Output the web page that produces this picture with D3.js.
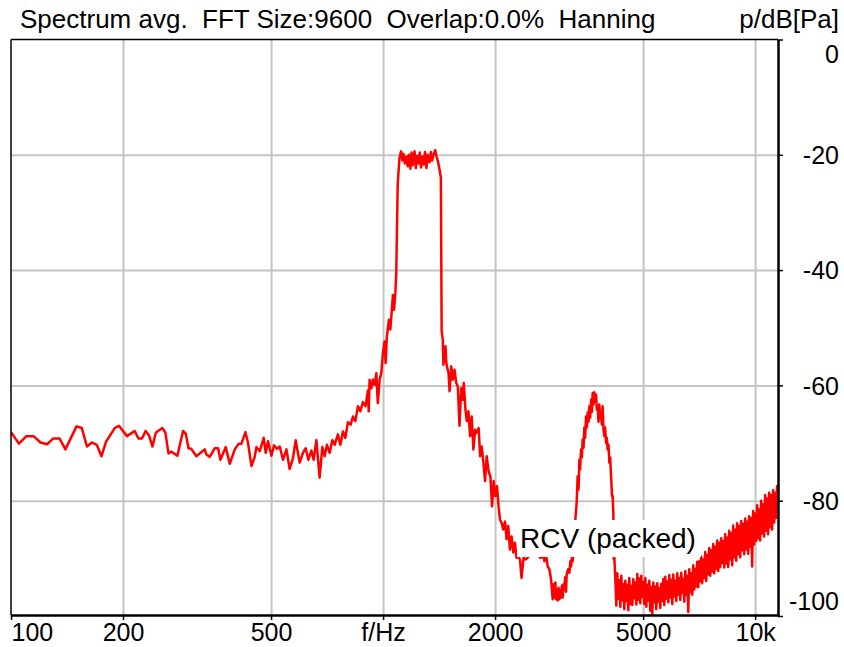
<!DOCTYPE html>
<html>
<head>
<meta charset="utf-8">
<script src="https://cdn.jsdelivr.net/npm/d3@7"></script>
<style>
  body { margin: 0; background: #fff; }
  svg text { font-family: "Liberation Sans", Arial, sans-serif; fill: #000; }
</style>
</head>
<body>
<script>
// spectrum: frequency (Hz) and level (dB re Pa)
const freqHz = [
  100, 105, 110, 115, 120, 125, 130, 135, 140, 150, 155, 160, 165, 170, 175, 180, 190, 195,
  205, 215, 220, 225, 230, 235, 240, 245, 255, 260, 265, 270, 280, 290, 295, 300, 305, 315,
  331.7, 335.2, 342.1, 352.9, 360.2, 365.5, 377.7, 387.2, 399.4, 409.4, 416.3, 426.7, 433.6,
  442.9, 451.9, 456.7, 466.2, 477.8, 483.8, 490.7, 501.2, 509.2, 518.7, 527.5, 538.4, 549.9,
  561, 572.6, 582.3, 596.8, 609.1, 619.4, 629.8, 641.6, 650.8, 661.7, 675.3, 686.7, 696.6,
  706.6, 718.5, 730.6, 741, 756.3, 767.6, 780.1, 791.7, 804.5, 818.2, 830, 842.3, 856, 868.7,
  882.7, 897.5, 910.4, 915,
  920, 930, 939, 949, 959, 968, 979, 989, 999, 1009, 1016, 1024, 1037, 1046, 1054, 1063, 1070,
  1079, 1085, 1095, 1107, 1118, 1127, 1134, 1145, 1155, 1165, 1173, 1184, 1193, 1202, 1215,
  1225, 1234, 1245, 1255, 1264, 1276, 1286, 1296, 1308, 1318, 1333, 1344, 1355, 1366, 1381,
  1392, 1403, 1418, 1430, 1437,
  1447, 1453, 1463, 1472, 1478, 1484, 1493, 1500, 1509, 1525, 1540, 1556, 1573, 1588, 1605,
  1622, 1638, 1648, 1665, 1679, 1696, 1714, 1731, 1749, 1768, 1785, 1807, 1823, 1841, 1861,
  1880, 1899, 1922, 1943, 1963, 1983, 2003, 2024, 2044, 2062, 2082, 2104, 2127, 2148, 2170,
  2193, 2215, 2239, 2262, 2284, 2308, 2333, 2356, 2385, 2421, 2460, 2486, 2517, 2548, 2580,
  2612, 2642,
  2659, 2689, 2714, 2743, 2770, 2799, 2829, 2846, 2857, 2873, 2887, 2905, 2917, 2931, 2946,
  2962, 2978, 2996, 3009, 3024, 3039, 3056, 3071, 3086, 3103, 3115, 3142, 3168, 3188, 3201,
  3217, 3233, 3251, 3267, 3287, 3314, 3334, 3353, 3370, 3384, 3405, 3422, 3439, 3458, 3475,
  3492, 3512, 3529, 3547, 3567, 3585, 3603, 3623, 3641, 3659, 3680, 3697, 3716, 3736, 3755,
  3773, 3794, 3813, 3832, 3853, 3872, 3891, 3913, 3933, 3952, 3974, 3994, 4014, 4036, 4057,
  4077, 4100, 4125, 4141, 4158, 4171, 4184,
  4210, 4236, 4262, 4288, 4315, 4342, 4369, 4396, 4423, 4450, 4478, 4506, 4534, 4562, 4590,
  4619, 4647, 4676, 4705, 4734, 4764, 4793, 4823, 4853, 4883, 4913, 4944, 4975, 5005, 5036,
  5068, 5099, 5131, 5163, 5195, 5227, 5260, 5293, 5325, 5358, 5391, 5424, 5458, 5492, 5526,
  5560, 5595, 5630, 5665, 5700, 5735, 5771, 5807, 5843, 5879, 5915, 5952, 5989, 6026, 6063,
  6101, 6139, 6177, 6215, 6253, 6292, 6331, 6370, 6410, 6450, 6490, 6530, 6570, 6611, 6652,
  6694, 6735, 6777, 6819, 6861, 6903, 6946, 6989, 7032, 7076, 7120, 7164, 7208, 7253, 7298,
  7343, 7389, 7435, 7481, 7528, 7574, 7621, 7668, 7716, 7764, 7812, 7860, 7909, 7958, 8008,
  8057, 8107, 8157, 8208, 8259, 8310, 8362, 8414, 8466, 8518, 8571, 8624, 8677, 8731, 8785,
  8840, 8895, 8950, 9005, 9062, 9118, 9174, 9231, 9288, 9346, 9404, 9462, 9521, 9580, 9636,
  9696, 9756, 9817, 9878, 9939, 10001, 10063, 10125, 10188, 10250, 10314, 10378, 10442, 10507,
  10572, 10638, 10704, 10770, 10837, 10904, 10972, 11040, 11108, 11177, 11246, 11316, 11386, 11457
];
const levelDb = [
  -68.1, -70.1, -68.8, -68.8, -69.9, -70.2, -69.2, -69.2, -71.1, -67.1, -67.4, -70.6, -69.9, -70.3, -72.3, -69.8, -67.4, -67.0,
  -68.8, -67.9, -69.2, -69.2, -67.9, -68.7, -70.6, -68.2, -67.4, -68.2, -71.8, -71.5, -72.2, -67.9, -68.4, -70.9, -71.0, -72.3,
  -71.1, -72.0, -72.4, -70.9, -70.9, -72.9, -70.7, -73.6, -71.1, -70.1, -70.1, -68.1, -70.0,
  -74.0, -72.4, -70.7, -71.4, -69.1, -71.7, -69.7, -72.2, -70.4, -71.0, -70.6, -72.9, -71.1,
  -74.5, -72.6, -69.5, -73.4, -71.7, -70.9, -72.9, -71.3, -72.9, -69.5, -76.0, -70.7, -72.3,
  -70.3, -71.7, -69.5, -70.3, -68.5, -70.3, -68.0, -69.1, -66.4, -66.8, -65.4, -66.2, -63.6, -64.5,
  -62.9, -63.6, -60.9, -64.5,
  -59.0, -60.5, -59.0, -59.9, -57.9, -63.1, -59.0, -57.9, -54.4, -52.4, -56.1, -51.5, -48.6, -50.3, -47.5, -44.3, -46.9,
  -44.0, -40.5, -25.0, -20.5, -19.4, -21.0, -19.8, -21.5, -20.3, -22.0, -20.0, -22.4, -19.6, -21.8, -19.4,
  -22.3, -20.2, -21.5, -19.6, -22.2, -20.3, -21.7, -19.5, -22.3, -20.0, -21.3, -19.5, -21.0, -20.0, -19.2,
  -20.3, -21.0, -22.5, -24.0, -50.5,
  -52.1, -56.4, -54.4, -53.2, -55.8, -56.7, -57.3, -57.9, -61.0, -56.7, -59.0, -57.3, -59.6, -60.2, -67.0,
  -60.5, -62.5, -59.6, -64.2, -66.2, -64.5, -68.8, -65.4, -71.1, -67.7, -68.2, -67.4, -72.3, -70.6, -73.4,
  -76.6, -72.3, -74.9, -75.8, -81.0, -76.6, -79.2, -77.5, -81.0, -83.3, -83.8, -85.0, -83.6, -86.7, -84.4,
  -88.5, -86.2, -89.0, -87.3, -89.9, -89.6, -90.2, -93.4, -89.9, -90.2, -89.7, -88.0, -87.0, -88.5, -87.6,
  -89.0, -89.9,
  -89.9, -89.2, -90.5, -89.5, -91.4, -91.9, -93.7, -95.8, -97.1, -94.5, -96.8, -94.2, -97.1, -95.4, -97.3,
  -95.1, -97.1, -95.4, -96.8, -94.7, -96.8, -94.5, -95.4, -93.3, -95.8, -92.8, -91.9, -92.5, -90.5, -91.4,
  -89.9, -90.5, -88.8, -89.5, -83.3, -80.3, -75.8, -78.1, -72.9, -74.6, -71.1, -72.5, -69.4, -70.8, -67.3,
  -69.1, -65.4, -67.3, -64.7, -66.3, -63.6, -65.6, -62.5, -64.6, -61.3, -63.3, -61.2, -62.8, -61.6, -64.2,
  -63.6, -66.3, -63.3, -65.6, -65.1, -66.8, -63.6, -67.7, -68.8, -67.3, -70.0, -69.1, -71.1, -70.3, -73.4,
  -72.5, -75.8, -79.2, -79.2, -82.1, -90.2, -89.9,
  -93.6, -98.2, -92.6, -97.0, -93.8, -98.4, -93.0, -97.3, -94.5, -98.8, -93.9, -97.4, -94.6, -99.0, -93.4,
  -97.9, -94.8, -98.1, -93.6, -96.9, -94.2, -98.0, -92.7, -97.2, -93.5, -97.8, -93.0, -96.7, -94.1, -97.9,
  -93.4, -98.4, -94.6, -97.3, -93.9, -99.1, -95.0, -99.6, -94.2, -97.6, -94.9, -98.8, -94.3, -97.5, -95.2,
  -98.6, -94.4, -97.4, -93.6, -98.1, -93.2, -97.0, -94.0, -97.6, -92.9, -96.8, -93.7, -97.9, -92.8, -96.6,
  -93.9, -97.4, -92.6, -96.3, -93.4, -97.2, -92.5, -96.0, -93.6, -97.5, -92.2, -96.4, -93.0, -99.3, -91.9,
  -95.9, -92.6, -96.3, -91.2, -95.4, -91.8, -94.9, -90.6, -95.0, -90.5, -94.0, -89.7, -94.3, -90.2, -93.4,
  -88.9, -93.9, -89.4, -92.8, -88.2, -93.0, -88.6, -92.3, -87.5, -92.6, -88.0, -91.8, -86.9, -92.2, -87.3,
  -91.5, -86.5, -90.8, -87.0, -91.6, -85.8, -90.9, -86.4, -91.5, -85.2, -90.2, -85.6, -91.2, -84.3, -89.8,
  -85.0, -90.4, -83.9, -89.3, -84.4, -89.8, -83.5, -88.6, -84.0, -89.3, -83.1, -88.4, -83.6, -89.2, -82.7,
  -88.0, -83.0, -91.4, -81.8, -87.6, -82.2, -87.0, -80.8, -86.5, -81.5, -86.9, -80.0, -85.7, -80.6,
  -86.2, -79.0, -85.2, -79.6, -85.8, -78.6, -84.6, -79.0, -85.0, -78.2, -83.8, -78.6, -83.0, -77.3
];

const xTicks = [100, 200, 500, 1000, 2000, 5000, 10000];
const xTickLabels = ['100', '200', '500', 'f/Hz', '2000', '5000', '10k'];
const yTicks = [0, -20, -40, -60, -80, -100];
const titleText = 'Spectrum avg.  FFT Size:9600  Overlap:0.0%  Hanning';
const unitText = 'p/dB[Pa]';
const markerText = 'RCV (packed)';

const width = 844, height = 647;
const plot = { left: 11, right: 778, top: 39.5, bottom: 615 };

const points = freqHz.map((f, i) => ({ f: f, db: levelDb[i] }));

const xScale = d3.scaleLog()
  .domain([100, 11520])
  .range([plot.left, plot.right]);

const yScale = d3.scaleLinear()
  .domain([-100, 0])
  .range([616, plot.top]);

const svg = d3.select('body')
  .append('svg')
  .attr('width', width)
  .attr('height', height);

// grid
svg.append('g')
  .attr('transform', `translate(0, ${plot.bottom})`)
  .call(d3.axisBottom(xScale).tickValues(xTicks.slice(1)).tickSize(-(plot.bottom - plot.top)).tickFormat(''))
  .call(g => g.select('.domain').remove())
  .call(g => g.selectAll('line').attr('stroke', '#c4c4c4').attr('stroke-width', 2));

svg.append('g')
  .attr('transform', `translate(${plot.left}, 0)`)
  .call(d3.axisLeft(yScale).tickValues(yTicks.slice(1, -1)).tickSize(-(plot.right - plot.left)).tickFormat(''))
  .call(g => g.select('.domain').remove())
  .call(g => g.selectAll('line').attr('stroke', '#c4c4c4').attr('stroke-width', 2));

// spectrum line
svg.append('clipPath').attr('id', 'plotclip')
  .append('rect')
  .attr('x', plot.left).attr('y', plot.top)
  .attr('width', plot.right - plot.left).attr('height', plot.bottom - plot.top);

const line = d3.line()
  .x(d => xScale(d.f))
  .y(d => yScale(d.db));

svg.append('path')
  .datum(points)
  .attr('clip-path', 'url(#plotclip)')
  .attr('fill', 'none')
  .attr('stroke', '#ff0000')
  .attr('stroke-width', 2.5)
  .attr('stroke-linejoin', 'round')
  .attr('d', line);

// frame
svg.append('line')
  .attr('x1', plot.left).attr('x2', plot.left)
  .attr('y1', plot.top).attr('y2', plot.bottom)
  .attr('stroke', '#000').attr('stroke-width', 1.5);
svg.append('line')
  .attr('x1', plot.left).attr('x2', plot.right)
  .attr('y1', plot.top).attr('y2', plot.top)
  .attr('stroke', '#000').attr('stroke-width', 1.5);

// bottom axis
const xAxis = d3.axisBottom(xScale)
  .tickValues(xTicks)
  .tickFormat((d, i) => xTickLabels[i])
  .tickSize(5)
  .tickSizeOuter(0)
  .tickPadding(3);

svg.append('g')
  .attr('transform', `translate(0, ${plot.bottom})`)
  .call(xAxis)
  .call(g => g.select('.domain').attr('stroke', '#000').attr('stroke-width', 2.5))
  .call(g => g.selectAll('.tick line').attr('stroke', '#000').attr('stroke-width', 1.5))
  .call(g => g.selectAll('.tick text')
    .attr('font-size', '25px')
    .attr('font-family', '"Liberation Sans", Arial, sans-serif')
    .attr('fill', '#000')
    .attr('text-anchor', (d, i) => i === 0 ? 'start' : 'middle'));

// right axis
const yAxis = d3.axisRight(yScale)
  .tickValues(yTicks)
  .tickFormat(d => String(d))
  .tickSize(5)
  .tickSizeOuter(0);

svg.append('g')
  .attr('transform', `translate(${plot.right}, 0)`)
  .call(yAxis)
  .call(g => g.select('.domain').attr('stroke', '#000').attr('stroke-width', 2.5))
  .call(g => g.selectAll('.tick line').attr('stroke', '#000').attr('stroke-width', 1.5))
  .call(g => g.selectAll('.tick text')
    .attr('font-size', '25px')
    .attr('font-family', '"Liberation Sans", Arial, sans-serif')
    .attr('fill', '#000')
    .attr('text-anchor', 'end')
    .attr('x', 61)
    .attr('dy', d => d === 0 ? '0.9em' : (d === -100 ? '-0.25em' : '0.35em')));

// title and unit
svg.append('text')
  .attr('x', 20)
  .attr('y', 28)
  .attr('font-size', '26px')
  .style('white-space', 'pre')
  .text(titleText);

svg.append('text')
  .attr('x', 839)
  .attr('y', 28)
  .attr('font-size', '26px')
  .attr('text-anchor', 'end')
  .text(unitText);

// marker label with white box
const marker = svg.append('g');
marker.append('rect')
  .attr('x', 517).attr('y', 520)
  .attr('width', 184).attr('height', 37)
  .attr('fill', '#fff');
marker.append('text')
  .attr('x', 608)
  .attr('y', 548)
  .attr('font-size', '28px')
  .attr('text-anchor', 'middle')
  .text(markerText);
</script>
</body>
</html>
